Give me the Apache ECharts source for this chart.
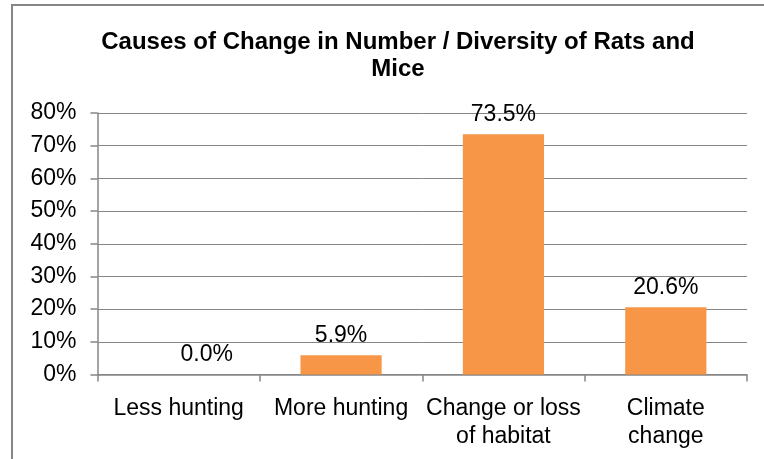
<!DOCTYPE html>
<html>
<head>
<meta charset="utf-8">
<script src="https://cdn.jsdelivr.net/npm/echarts@6/dist/echarts.min.js"></script>
<style>
html,body{margin:0;padding:0;background:#fff;}
#chart{width:764px;height:459px;}
</style>
</head>
<body>
<div id="chart"></div>
<script>
var titleText = 'Causes of Change in Number / Diversity of Rats and\nMice';
var categories = ['Less hunting', 'More hunting', 'Change or loss\nof habitat', 'Climate\nchange'];
var values = [0.0, 5.9, 73.5, 20.6];
var yMin = 0, yMax = 80, yStep = 10;

var chart = echarts.init(document.getElementById('chart'), null, {renderer: 'canvas'});
var font = 'Liberation Sans, Arial, sans-serif';
var axisGray = '#868686';
var seriesData = values.map(function (v, i) {
  var item = {value: v};
  if (v === 0) { item.label = {offset: [28, 0]}; }
  return item;
});
chart.setOption({
  backgroundColor: '#ffffff',
  animation: false,
  graphic: [{
    type: 'rect',
    shape: {x: 12, y: 5, width: 800, height: 500},
    style: {fill: 'none', stroke: axisGray, lineWidth: 2},
    silent: true
  }],
  title: {
    text: titleText,
    left: 393,
    top: 24,
    textAlign: 'center',
    textStyle: {fontFamily: font, fontWeight: 'bold', fontSize: 24, lineHeight: 27, color: '#000'}
  },
  grid: {left: 97.5, right: 17, top: 113, bottom: 84.5, containLabel: false},
  xAxis: {
    type: 'category',
    data: categories,
    axisLine: {lineStyle: {color: axisGray, width: 1.5}},
    axisTick: {show: true, alignWithLabel: false, length: 7, lineStyle: {color: axisGray, width: 1.5}},
    axisLabel: {fontFamily: font, fontSize: 23, lineHeight: 28, color: '#000', margin: 20, interval: 0}
  },
  yAxis: {
    type: 'value',
    min: yMin, max: yMax, interval: yStep,
    axisLine: {show: true, lineStyle: {color: axisGray, width: 1.5}},
    axisTick: {show: true, length: 7, lineStyle: {color: axisGray, width: 1.5}},
    splitLine: {show: true, lineStyle: {color: axisGray, width: 1}},
    axisLabel: {fontFamily: font, fontSize: 23, color: '#000', margin: 21, formatter: '{value}%'}
  },
  series: [{
    type: 'bar',
    data: seriesData,
    barCategoryGap: '50%',
    itemStyle: {color: '#F79646'},
    label: {
      show: true, position: 'top', distance: 8,
      fontFamily: font, fontSize: 23, color: '#000',
      formatter: function (p) { return p.value.toFixed(1) + '%'; }
    }
  }]
});
</script>
</body>
</html>
